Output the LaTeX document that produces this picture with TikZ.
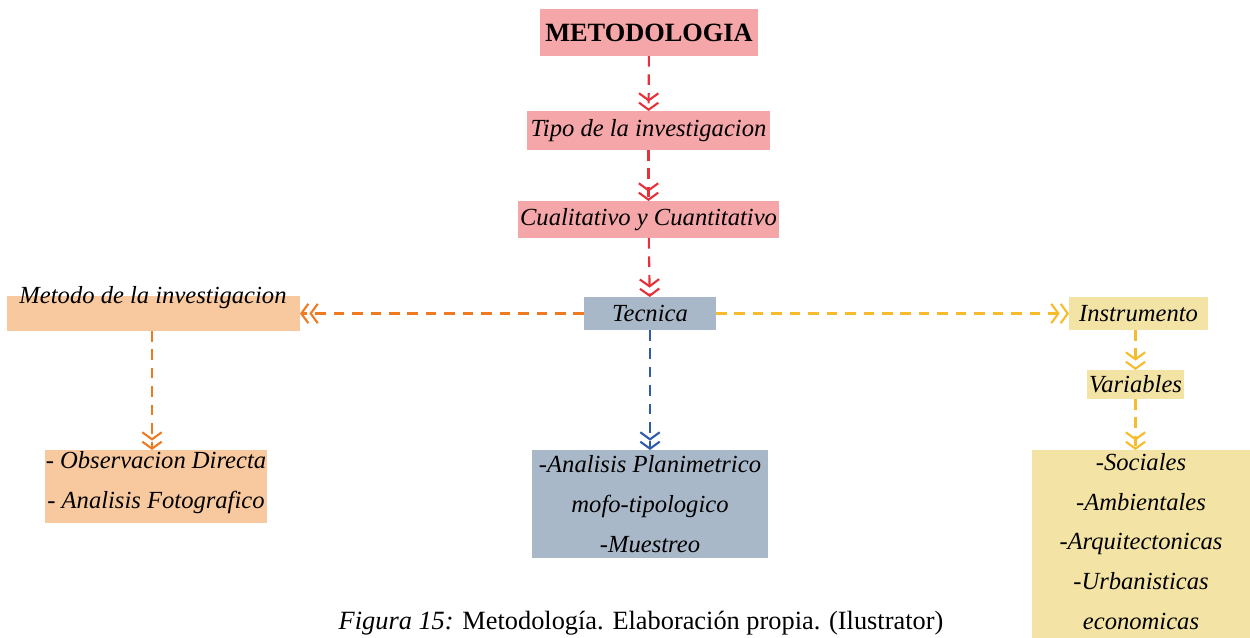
\documentclass[tikz,border=0pt]{standalone}
\usepackage{fontspec}
\setmainfont{Liberation Serif}
\usetikzlibrary{arrows.meta}
\definecolor{pinkc}{HTML}{F4A6A8}
\definecolor{redl}{HTML}{E8303A}
\definecolor{peach}{HTML}{F8C99E}
\definecolor{orangel}{HTML}{EE7B22}
\definecolor{slate}{HTML}{A9B8C8}
\definecolor{bluel}{HTML}{2F5BAA}
\definecolor{sand}{HTML}{F3E4A6}
\definecolor{yellowl}{HTML}{F6BC2C}
\tikzset{
  box/.style={inner sep=0pt, outer sep=0pt, align=center,
    font=\fontsize{14}{22.7}\selectfont\itshape},
  conn/.style={line width=1.2pt, dash pattern=on 6pt off 4.5pt,
    -{Straight Barb[length=4pt,width=11pt,line width=1.2pt]Straight Barb[length=4pt,width=11pt,line width=1.2pt]}},
}
\begin{document}
\begin{tikzpicture}[x=0.02cm,y=-0.02cm]
\useasboundingbox (0,0) rectangle (1250,637);
\node[box, fill=pinkc, minimum width=218*0.02cm, minimum height=47*0.02cm,
  font=\fontsize{15}{20}\selectfont\bfseries] (meto) at (649,32.5) {METODOLOGIA};
\node[box, fill=pinkc, minimum width=243*0.02cm, minimum height=39*0.02cm] (tipo) at (648.5,130.5) {Tipo de la investigacion};
\node[box, fill=pinkc, minimum width=261*0.02cm, minimum height=37*0.02cm] (cual) at (648.5,219.5) {Cualitativo y Cuantitativo};
\node[box, fill=slate, minimum width=132*0.02cm, minimum height=33*0.02cm] (tec) at (650,313.5) {Tecnica};
\node[box, fill=peach, minimum width=293*0.02cm, minimum height=35*0.02cm] (metodo) at (153.5,313.5) {};
\node[box] (metodot) at (153,298) {Metodo de la investigacion};
\node[box, fill=sand, minimum width=139*0.02cm, minimum height=33*0.02cm] (inst) at (1138.5,313.5) {Instrumento};
\node[box, fill=sand, minimum width=97*0.02cm, minimum height=29*0.02cm] (var) at (1135.5,384.5) {Variables};
\node[box, fill=peach, minimum width=222*0.02cm, minimum height=73*0.02cm] (obs) at (156,486.5) {};
\node[box] (obst) at (156,483) {- Observacion Directa\\- Analisis Fotografico};
\node[box, fill=slate, minimum width=236*0.02cm, minimum height=108*0.02cm] (ana) at (650,504) {-Analisis Planimetrico\\mofo-tipologico\\-Muestreo};
\node[box, fill=sand, minimum width=218*0.02cm, minimum height=190*0.02cm] (soc) at (1141,545) {};
\node[box] (soct) at (1141,541.5) {-Sociales\\-Ambientales\\-Arquitectonicas\\-Urbanisticas\\economicas};
\node[anchor=base, inner sep=0pt, font=\fontsize{15}{18}\selectfont] (cap) at (641,629)
  {\textit{Figura 15:} Metodología. Elaboración propia. (Ilustrator)};
\draw[conn, redl] (meto) -- (tipo);
\draw[conn, redl] (tipo) -- (cual);
\draw[conn, redl] (cual) -- (tec);
\draw[conn, orangel] (tec.west) -- (metodo.east);
\draw[conn, orangel] ([xshift=-1.5*0.02cm]metodo.south) -- ([xshift=-1.5*0.02cm]metodo.south |- obs.north);
\draw[conn, bluel] (tec) -- (tec |- ana.north);
\draw[conn, yellowl] (tec.east) -- (inst.west);
\draw[conn, yellowl] (var.north |- inst.south) -- (var.north);
\draw[conn, yellowl] (var.south) -- (var.south |- soc.north);
\end{tikzpicture}
\end{document}
